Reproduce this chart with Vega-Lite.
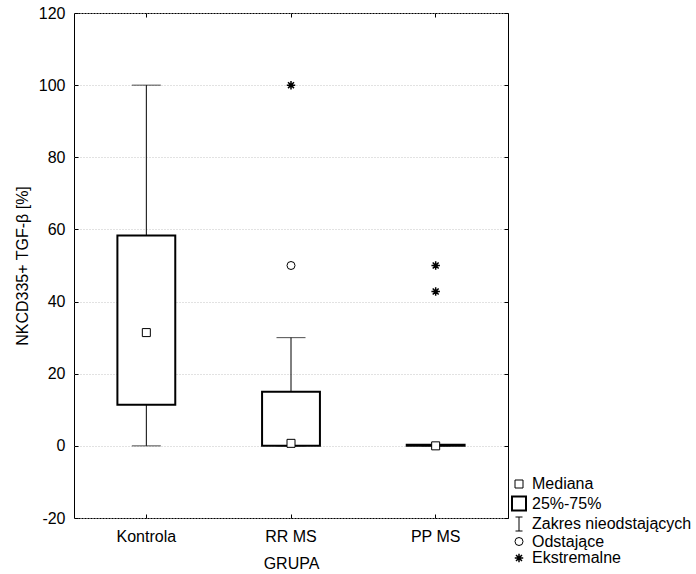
{
  "$schema": "https://vega.github.io/schema/vega-lite/v6.json",
  "width": 434,
  "height": 505,
  "autosize": {"type": "none"},
  "padding": {"left": 74, "top": 13, "right": 188, "bottom": 56},
  "background": "white",
  "config": {
    "font": "Liberation Sans",
    "view": {"stroke": "black", "strokeWidth": 1},
    "axis": {
      "labelFont": "Liberation Sans",
      "labelFontSize": 16,
      "labelColor": "black",
      "titleFont": "Liberation Sans",
      "titleFontSize": 16,
      "titleFontWeight": "normal",
      "titleColor": "black",
      "domainColor": "black",
      "tickColor": "black"
    },
    "legend": {
      "labelFont": "Liberation Sans",
      "labelFontSize": 16,
      "labelColor": "black"
    }
  },
  "resolve": {"axis": {"x": "independent", "y": "independent"}},
  "datasets": {
    "stats": [
      {"grupa": "Kontrola", "lo": 0, "q1": 11.4, "q3": 58.3, "hi": 100},
      {"grupa": "RR MS", "lo": 0, "q1": 0, "q3": 15, "hi": 30},
      {"grupa": "PP MS", "lo": 0, "q1": 0, "q3": 0.3, "hi": 0.3}
    ],
    "points": [
      {"grupa": "Kontrola", "value": 31.4, "kind": "Mediana"},
      {"grupa": "RR MS", "value": 0.7, "kind": "Mediana"},
      {"grupa": "PP MS", "value": 0, "kind": "Mediana"},
      {"grupa": "RR MS", "value": 50, "kind": "Odstające"},
      {"grupa": "RR MS", "value": 100, "kind": "Ekstremalne"},
      {"grupa": "PP MS", "value": 50, "kind": "Ekstremalne"},
      {"grupa": "PP MS", "value": 42.8, "kind": "Ekstremalne"}
    ]
  },
  "layer": [
    {
      "data": {"name": "stats"},
      "mark": {"type": "rule", "color": "black", "strokeWidth": 1},
      "encoding": {
        "x": {
          "field": "grupa",
          "type": "nominal",
          "sort": ["Kontrola", "RR MS", "PP MS"],
          "scale": {"paddingInner": 0, "paddingOuter": 0},
          "title": "GRUPA",
          "axis": {
            "orient": "bottom",
            "tickSize": -4,
            "labelPadding": 14,
            "labelAngle": 0,
            "titlePadding": 11,
            "domain": false
          }
        },
        "y": {
          "field": "lo",
          "type": "quantitative",
          "scale": {"domain": [-20, 120], "nice": false, "zero": false},
          "title": "NKCD335+ TGF-β [%]",
          "axis": {
            "orient": "left",
            "values": [-20, 0, 20, 40, 60, 80, 100, 120],
            "labelExpr": "replace(datum.label, '−', '-')",
            "tickSize": -4,
            "labelPadding": 13,
            "titlePadding": 8,
            "domain": false,
            "grid": true,
            "gridColor": "#c4c4c4",
            "gridDash": [1, 2],
            "gridWidth": 1
          }
        },
        "y2": {"field": "hi"}
      }
    },
    {
      "data": {"name": "stats"},
      "mark": {"type": "tick", "orient": "horizontal", "color": "black", "size": 29, "thickness": 1},
      "encoding": {
        "x": {"field": "grupa", "type": "nominal", "sort": ["Kontrola", "RR MS", "PP MS"], "axis": null},
        "y": {"field": "lo", "type": "quantitative", "axis": null}
      }
    },
    {
      "data": {"name": "stats"},
      "mark": {"type": "tick", "orient": "horizontal", "color": "black", "size": 29, "thickness": 1},
      "encoding": {
        "x": {
          "field": "grupa",
          "type": "nominal",
          "sort": ["Kontrola", "RR MS", "PP MS"],
          "title": null,
          "axis": {"orient": "top", "labels": false, "tickSize": -4, "domain": false, "grid": false}
        },
        "y": {
          "field": "hi",
          "type": "quantitative",
          "title": null,
          "axis": {
            "orient": "right",
            "values": [-20, 0, 20, 40, 60, 80, 100, 120],
            "labels": false,
            "tickSize": -4,
            "domain": false,
            "grid": false
          }
        }
      }
    },
    {
      "data": {"name": "stats"},
      "mark": {"type": "bar", "width": {"band": 0.4}, "fill": "white", "stroke": "black", "strokeWidth": 2},
      "encoding": {
        "x": {"field": "grupa", "type": "nominal", "sort": ["Kontrola", "RR MS", "PP MS"], "axis": null},
        "y": {"field": "q1", "type": "quantitative", "axis": null},
        "y2": {"field": "q3"}
      }
    },
    {
      "data": {"name": "points"},
      "mark": {"type": "point", "filled": false, "color": "black", "fill": "white", "fillOpacity": 1},
      "encoding": {
        "x": {"field": "grupa", "type": "nominal", "sort": ["Kontrola", "RR MS", "PP MS"], "axis": null},
        "y": {"field": "value", "type": "quantitative", "axis": null},
        "shape": {
          "field": "kind",
          "type": "nominal",
          "scale": {
            "domain": ["Mediana", "25%-75%", "Zakres nieodstających", "Odstające", "Ekstremalne"],
            "range": [
              "square",
              "square",
              "M-0.5,-1L0.5,-1M0,-1L0,1M-0.5,1L0.5,1",
              "circle",
              "M-1,0L1,0M0,-1L0,1M-0.7,-0.7L0.7,0.7M-0.7,0.7L0.7,-0.7"
            ]
          },
          "legend": {
            "title": null,
            "orient": "none",
            "legendX": 437,
            "legendY": 463,
            "rowPadding": 0.5,
            "labelOffset": 5,
            "symbolStrokeColor": "black",
            "symbolFillColor": "white"
          }
        },
        "size": {
          "field": "kind",
          "type": "nominal",
          "scale": {
            "type": "ordinal",
            "domain": ["Mediana", "25%-75%", "Zakres nieodstających", "Odstające", "Ekstremalne"],
            "range": [64, 196, 196, 64, 72]
          },
          "legend": {"title": null}
        },
        "strokeWidth": {
          "field": "kind",
          "type": "nominal",
          "scale": {
            "type": "ordinal",
            "domain": ["Mediana", "25%-75%", "Zakres nieodstających", "Odstające", "Ekstremalne"],
            "range": [1, 2, 1, 1, 1.5]
          },
          "legend": {"title": null}
        }
      }
    }
  ]
}
